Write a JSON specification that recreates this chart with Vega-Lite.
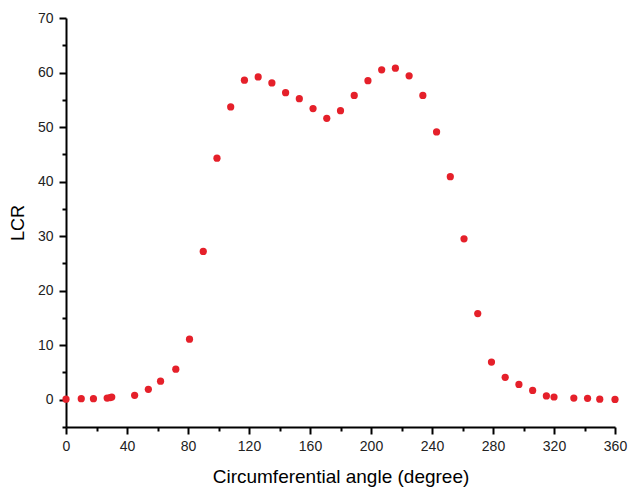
{
  "$schema": "https://vega.github.io/schema/vega-lite/v6.json",
  "width": 549,
  "height": 409,
  "autosize": "none",
  "padding": {"left": 66, "top": 18, "right": 16, "bottom": 72},
  "background": "white",
  "config": {
    "view": {"stroke": null},
    "font": "Liberation Sans"
  },
  "data": {
    "values": [
      {"angle": 0, "lcr": 0.1},
      {"angle": 10, "lcr": 0.2},
      {"angle": 18, "lcr": 0.2},
      {"angle": 27, "lcr": 0.3},
      {"angle": 29, "lcr": 0.4},
      {"angle": 30, "lcr": 0.5},
      {"angle": 45, "lcr": 0.8},
      {"angle": 54, "lcr": 1.9},
      {"angle": 62, "lcr": 3.4},
      {"angle": 72, "lcr": 5.6},
      {"angle": 81, "lcr": 11.1},
      {"angle": 90, "lcr": 27.2},
      {"angle": 99, "lcr": 44.3},
      {"angle": 108, "lcr": 53.7},
      {"angle": 117, "lcr": 58.6},
      {"angle": 126, "lcr": 59.2},
      {"angle": 135, "lcr": 58.1},
      {"angle": 144, "lcr": 56.3},
      {"angle": 153, "lcr": 55.2},
      {"angle": 162, "lcr": 53.4},
      {"angle": 171, "lcr": 51.6},
      {"angle": 180, "lcr": 53.0},
      {"angle": 189, "lcr": 55.8},
      {"angle": 198, "lcr": 58.5},
      {"angle": 207, "lcr": 60.5},
      {"angle": 216, "lcr": 60.8},
      {"angle": 225, "lcr": 59.4},
      {"angle": 234, "lcr": 55.8},
      {"angle": 243, "lcr": 49.1},
      {"angle": 252, "lcr": 40.9},
      {"angle": 261, "lcr": 29.5},
      {"angle": 270, "lcr": 15.8},
      {"angle": 279, "lcr": 6.9},
      {"angle": 288, "lcr": 4.1},
      {"angle": 297, "lcr": 2.8},
      {"angle": 306, "lcr": 1.7},
      {"angle": 315, "lcr": 0.7},
      {"angle": 320, "lcr": 0.5},
      {"angle": 333, "lcr": 0.3},
      {"angle": 342, "lcr": 0.25},
      {"angle": 350, "lcr": 0.1},
      {"angle": 360, "lcr": 0.05}
    ]
  },
  "mark": {"type": "circle", "size": 52, "color": "#e5202a", "opacity": 1},
  "encoding": {
    "x": {
      "field": "angle",
      "type": "quantitative",
      "title": "Circumferential angle (degree)",
      "scale": {"domain": [0, 360], "nice": false, "zero": false},
      "axis": {
        "values": [0, 20, 40, 60, 80, 100, 120, 140, 160, 180, 200, 220, 240, 260, 280, 300, 320, 340, 360],
        "labelExpr": "datum.value % 40 === 0 ? datum.label : ''",
        "tickSize": {"condition": {"test": "datum.value % 40 !== 0", "value": 4}, "value": 7},
        "grid": false,
        "domainColor": "black",
        "domainWidth": 2,
        "tickColor": "black",
        "tickWidth": 2,
        "labelFontSize": 14,
        "labelColor": "#222",
        "labelPadding": 5,
        "labelOverlap": false,
        "labelFlush": false,
        "titleFontSize": 19,
        "titleFontWeight": "normal",
        "titleColor": "black",
        "titlePadding": 14
      }
    },
    "y": {
      "field": "lcr",
      "type": "quantitative",
      "title": "LCR",
      "scale": {"domain": [-5, 70], "nice": false, "zero": false},
      "axis": {
        "values": [-5, 0, 5, 10, 15, 20, 25, 30, 35, 40, 45, 50, 55, 60, 65, 70],
        "labelExpr": "datum.value % 10 === 0 ? datum.label : ''",
        "tickSize": {"condition": {"test": "datum.value % 10 !== 0", "value": 4}, "value": 7},
        "grid": false,
        "domainColor": "black",
        "domainWidth": 2,
        "tickColor": "black",
        "tickWidth": 2,
        "labelFontSize": 14,
        "labelColor": "#222",
        "labelPadding": 6,
        "labelOverlap": false,
        "labelFlush": false,
        "titleFontSize": 18,
        "titleFontWeight": "normal",
        "titleColor": "black",
        "titlePadding": 10
      }
    }
  }
}
